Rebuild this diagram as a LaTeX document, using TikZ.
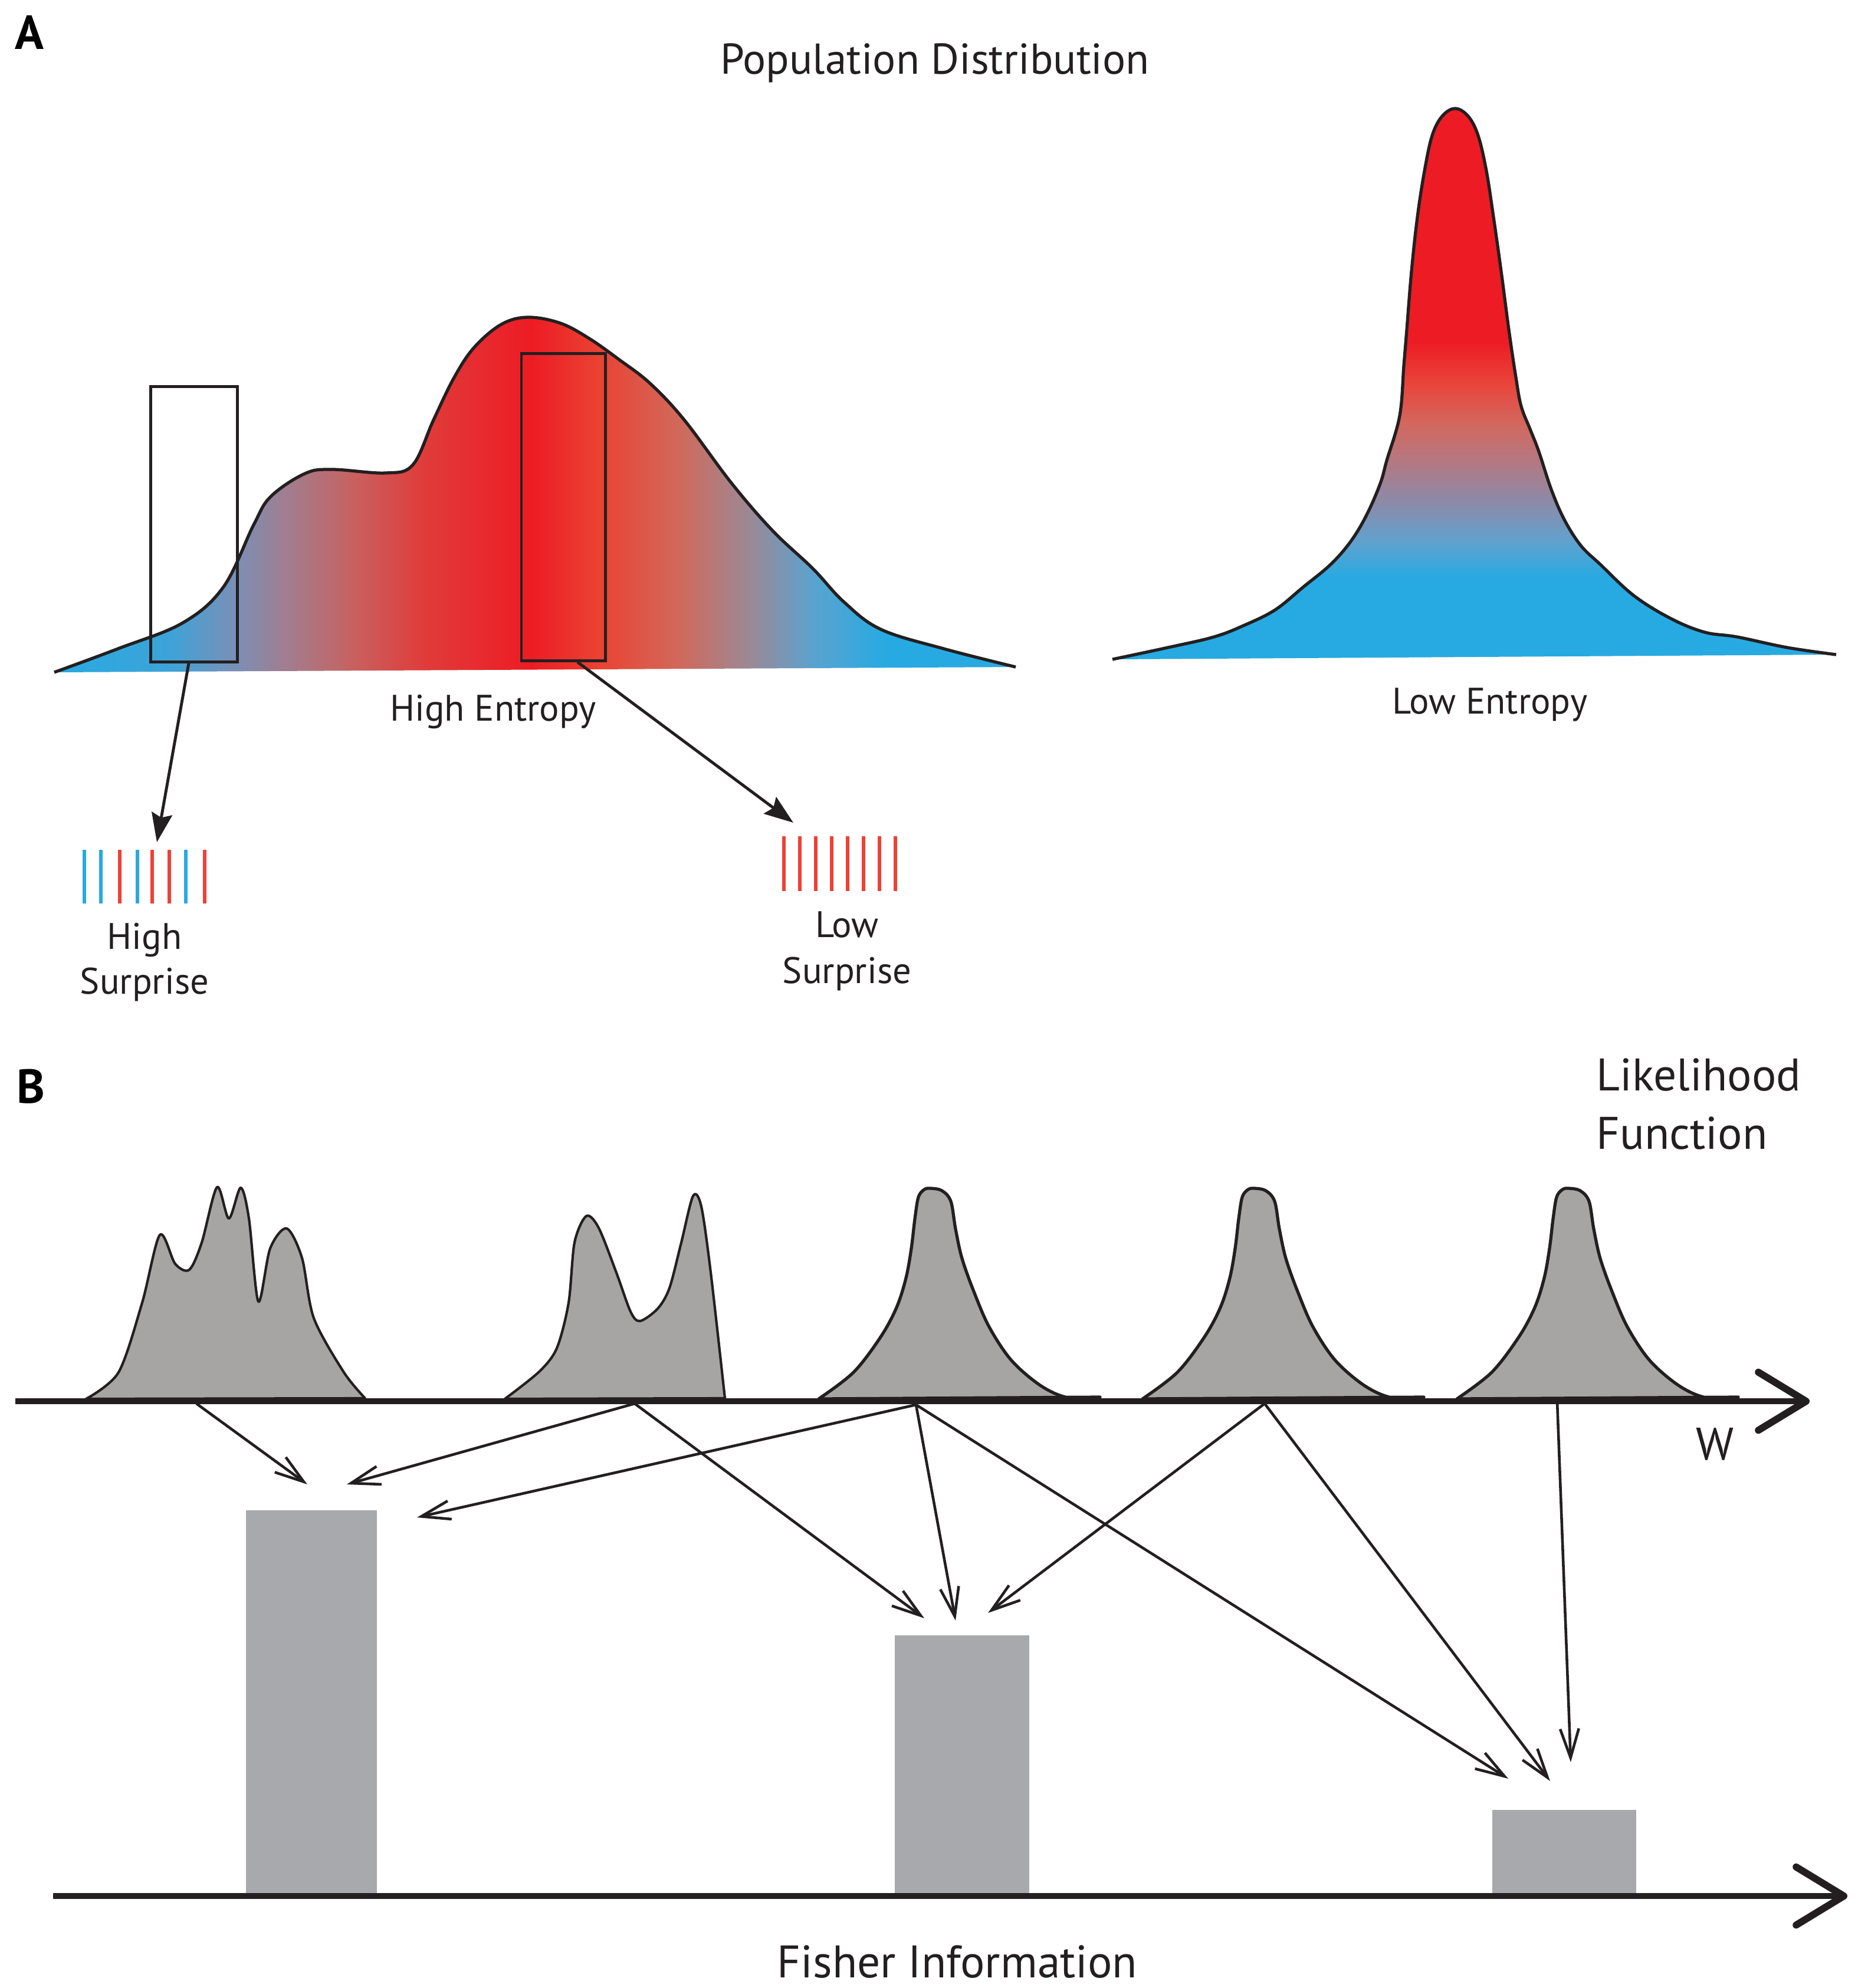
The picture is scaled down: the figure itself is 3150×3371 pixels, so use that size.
\documentclass[tikz,border=0pt]{standalone}
\usepackage{fontspec}
\setmainfont{PT Sans}
\usetikzlibrary{arrows.meta}
\usepackage{xcolor}
\definecolor{ink}{HTML}{231F20}
\definecolor{eblue}{HTML}{27AAE1}
\definecolor{ered}{HTML}{ED1C24}
\definecolor{sred}{HTML}{EF4136}
\definecolor{hb1}{HTML}{3DA3D8}
\definecolor{hb2}{HTML}{7B8FB5}
\definecolor{hb3}{HTML}{A07E91}
\definecolor{hb4}{HTML}{C8615F}
\definecolor{hb5}{HTML}{E03B3A}
\definecolor{hb6}{HTML}{EA4434}
\definecolor{hb7}{HTML}{D1695B}
\definecolor{hb8}{HTML}{A1868F}
\definecolor{hb9}{HTML}{5AA3CF}
\definecolor{lb1}{HTML}{5FA2CF}
\definecolor{lb2}{HTML}{8C8AA8}
\definecolor{lb3}{HTML}{B07A85}
\definecolor{lb4}{HTML}{D2685F}
\definecolor{lb5}{HTML}{E9443A}
\definecolor{likegray}{HTML}{A7A4A4}
\definecolor{bargray}{HTML}{A7A9AC}
\pgfdeclarehorizontalshading{highent}{100bp}{color(0bp)=(eblue); color(25bp)=(eblue);
  color(31bp)=(hb1); color(34.5bp)=(hb2); color(37bp)=(hb3); color(40.6bp)=(hb4);
  color(44.3bp)=(hb5); color(49.8bp)=(ered); color(53.5bp)=(hb6); color(57.5bp)=(hb7);
  color(60.8bp)=(hb8); color(64.5bp)=(hb9); color(68.2bp)=(eblue); color(100bp)=(eblue)}
\pgfdeclareverticalshading{lowent}{100bp}{color(0bp)=(eblue); color(32.4bp)=(eblue);
  color(35.6bp)=(lb1); color(39.3bp)=(lb2); color(42.6bp)=(lb3); color(46.3bp)=(lb4);
  color(50.1bp)=(lb5); color(53.8bp)=(ered); color(100bp)=(ered)}
\tikzset{
  title/.style={font=\fontsize{20.8}{24}\selectfont, inner sep=0pt, text=ink},
  mid/.style={font=\fontsize{17.8}{21}\selectfont, inner sep=0pt, text=ink},
  big/.style={font=\fontsize{22}{26}\selectfont, inner sep=0pt, text=ink},
  panel/.style={font=\bfseries\fontsize{23}{27}\selectfont, inner sep=0pt},
  dist/.style={draw=ink, line width=1.5pt, line join=round},
  win/.style={draw=ink, line width=1.4pt, inner sep=0pt},
  spike/.style={line width=1.7pt},
  pick/.style={draw=ink, line width=1.4pt, -{Stealth[length=14pt,width=10pt,inset=2pt]}},
  like/.style={fill=likegray, draw=ink, line width=1.5pt, line join=round},
  bar/.style={fill=bargray, inner sep=0pt, anchor=south},
  axis/.style={draw=ink, line width=2.85pt, -{Straight Barb[length=23pt,width=28pt,round,line width=3.4pt]}},
  vote/.style={draw=ink, line width=1.3pt, -{Straight Barb[length=14pt,width=9pt]}}
}
\newcommand\hightop{plot[smooth,tension=0.6] coordinates {(92,1140) (200,1100) (310,1056)
  (379,995) (430,890) (459,842) (517,803) (563,796) (654,802) (700,788) (735,712) (770,640)
  (804,589) (850,550) (895,538) (950,548) (999,574) (1050,610) (1102,650) (1160,712)
  (1240,819) (1310,900) (1378,964) (1430,1020) (1493,1067) (1600,1100) (1722,1131)}}
\newcommand\lowtop{plot[smooth,tension=0.6] coordinates {(1886,1118) (1980,1098) (2058,1080)
  (2110,1060) (2162,1034) (2210,995) (2256,957) (2290,918) (2317,873) (2340,820) (2351,781)
  (2373,705) (2380,620) (2385,559) (2393,460) (2403,368) (2415,290) (2428,230) (2445,197)
  (2467,184) (2489,197) (2506,230) (2520,290) (2532,368) (2545,460) (2558,559) (2570,640)
  (2579,689) (2595,730) (2609,766) (2630,830) (2652,881) (2680,925) (2713,957) (2770,1010)
  (2833,1049) (2890,1072) (2945,1080) (3030,1098) (3113,1110)}}
\newcommand\onepeak{plot[smooth,tension=0.55] coordinates {(-190,2372) (-131,2327) (-85,2267)
  (-58,2217) (-42,2167) (-33,2117) (-27,2067) (-21,2030) (-11,2017) (0,2015) (19,2019)
  (34,2037) (42,2084) (53,2134) (73,2190) (99,2250) (137,2307) (187,2350) (233,2370) (287,2369)}}

\begin{document}
\begin{tikzpicture}[x=0.01cm,y=-0.01cm]
\useasboundingbox (0,0) rectangle (3150,3371);

\node[panel, anchor=base west] (labA) at (25,83) {A};
\node[title, anchor=base] (popdist) at (1585,125) {Population Distribution};

\shade[shading=highent] \hightop -- cycle;
\draw[dist] \hightop;
\shade[shading=lowent] \lowtop -- cycle;
\draw[dist] \lowtop;

\node[win, minimum width=1.46cm, minimum height=4.66cm] (winL) at (329,889) {};
\node[win, minimum width=1.42cm, minimum height=5.2cm] (winR) at (955,860) {};
\node[mid, anchor=base] (hient) at (836,1222) {High Entropy};
\node[mid, anchor=base] (loent) at (2526,1210) {Low Entropy};

\foreach \sx/\sc in {143/eblue,171/eblue,203/sred,233/eblue,258/sred,287/sred,315/eblue,347/sred}
  \draw[spike, \sc] (\sx,1441) -- (\sx,1532);
\foreach \sx in {1329,1356,...,1518}
  \draw[spike, sred] (\sx,1418) -- (\sx,1511);
\coordinate (hsTip) at (266,1428);
\coordinate (lsTip) at (1345,1395);
\draw[pick] ([xshift=-0.09cm]winL.south) -- (hsTip);
\draw[pick] ([xshift=0.24cm]winR.south) -- (lsTip);
\node[mid, anchor=base] (hs1) at (245,1609) {High};
\node[mid, anchor=base] (hs2) at (245,1685) {Surprise};
\node[mid, anchor=base] (ls1) at (1436,1589) {Low};
\node[mid, anchor=base] (ls2) at (1436,1667) {Surprise};

\node[panel, anchor=base west] (labB) at (28,1870) {B};
\node[big, anchor=base west] (lik1) at (2706,1849) {Likelihood};
\node[big, anchor=base west] (lik2) at (2706,1948) {Function};

\filldraw[like, line width=1.2pt] plot[smooth,tension=0.5] coordinates {(146,2372) (201,2327)
  (241,2209) (271,2094) (297,2143) (321,2153) (342,2107) (368,2013) (388,2066) (408,2014)
  (422,2066) (438,2207) (458,2117) (486,2083) (512,2133) (532,2235) (583,2327) (619,2371)} -- cycle;
\filldraw[like, line width=1.2pt] plot[smooth,tension=0.5] coordinates {(856,2372) (914,2326)
  (944,2286) (964,2209) (974,2107) (994,2062) (1015,2082) (1045,2158) (1069,2224) (1085,2240)
  (1115,2219) (1135,2184) (1155,2107) (1175,2028) (1189,2046) (1205,2158) (1229,2371)} -- cycle;
\foreach \cx in {1578,2127,2660}
  \filldraw[like, shift={(\cx,0)}] \onepeak -- cycle;

\node[bar, minimum width=2.22cm, minimum height=6.52cm] (fi1) at (528,3214) {};
\node[bar, minimum width=2.28cm, minimum height=4.4cm] (fi2) at (1631,3214) {};
\node[bar, minimum width=2.43cm, minimum height=1.44cm] (fi3) at (2652,3214) {};

\coordinate (w0) at (26,2376);
\coordinate (w1) at (3068,2376);
\draw[axis] (w0) -- (w1);
\node[big, anchor=base] (wlab) at (2908,2475) {W};
\coordinate (f0) at (90,3215);
\coordinate (f1) at (3132,3215);
\draw[axis] (f0) -- (f1);
\node[big, anchor=base] (fish) at (1623,3353) {Fisher Information};

\coordinate (s1) at (333,2380);
\coordinate (s2) at (1076,2380);
\coordinate (s3) at (1553,2382);
\coordinate (s4) at (2144,2380);
\coordinate (s5) at (2640,2376);
\coordinate (a1) at (521,2517);
\coordinate (a2) at (588,2517);
\coordinate (a3) at (707,2573);
\coordinate (b1) at (1567,2744);
\coordinate (b2) at (1620,2748);
\coordinate (b3) at (1675,2735);
\coordinate (c1) at (2557,3016);
\coordinate (c2) at (2628,3020);
\coordinate (c3) at (2663,2988);
\foreach \f/\t in {s1/a1,s2/a2,s3/a3,s2/b1,s3/b2,s4/b3,s3/c1,s4/c2,s5/c3}
  \draw[vote] (\f) -- (\t);
\end{tikzpicture}
\end{document}
